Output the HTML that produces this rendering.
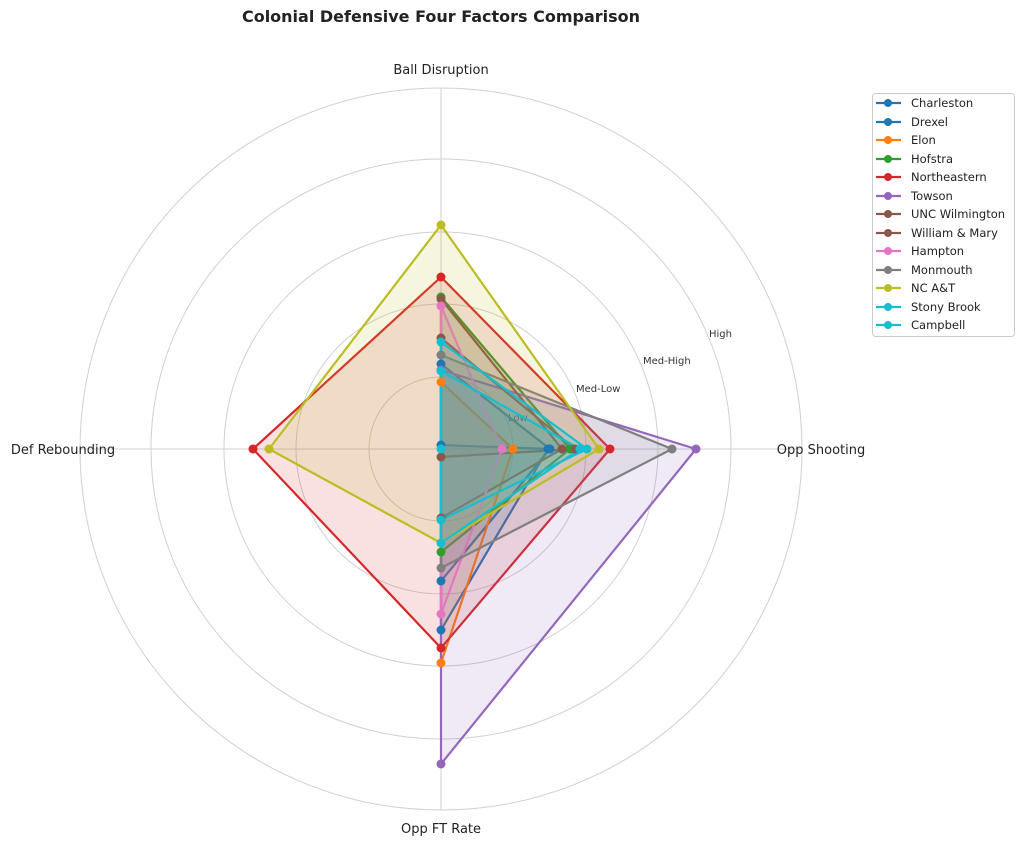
<!DOCTYPE html>
<html><head><meta charset="utf-8"><style>
body{margin:0;background:#fff;}
svg{display:block;font-family:"DejaVu Sans","Liberation Sans",sans-serif;}
</style></head><body>
<svg width="1024" height="844" viewBox="0 0 1024 844">
<text x="441" y="22" text-anchor="middle" font-size="16" font-weight="bold" fill="#222">Colonial Defensive Four Factors Comparison</text>
<g fill="none" stroke="#d0d0d0" stroke-width="1">
<circle cx="441" cy="449" r="72"/><circle cx="441" cy="449" r="145"/><circle cx="441" cy="449" r="217"/><circle cx="441" cy="449" r="290"/><circle cx="441" cy="449" r="361"/>
<line x1="441" y1="449" x2="441" y2="88"/><line x1="441" y1="449" x2="802" y2="449"/><line x1="441" y1="449" x2="441" y2="810"/><line x1="441" y1="449" x2="80" y2="449"/>
</g>
<g font-size="10" fill="#333">
<text x="508" y="421">Low</text><text x="576" y="392">Med-Low</text><text x="643" y="364">Med-High</text><text x="709" y="337">High</text>
</g>
<g font-size="13" fill="#222" text-anchor="middle">
<text x="441" y="74">Ball Disruption</text><text x="821" y="454">Opp Shooting</text><text x="441" y="833">Opp FT Rate</text><text x="63" y="454">Def Rebounding</text>
</g>
<g stroke-width="2.2" stroke-linejoin="round" fill-opacity="0.14">
<polygon points="441,364 550,449 441,581 441,449" fill="#1f77b4" stroke="#1f77b4"/>
<polygon points="441,445 548,449 441,630 441,449" fill="#1f77b4" stroke="#1f77b4"/>
<polygon points="441,382 513,449 441,663 441,449" fill="#ff7f0e" stroke="#ff7f0e"/>
<polygon points="441,297 570,449 441,552 441,449" fill="#2ca02c" stroke="#2ca02c"/>
<polygon points="441,277 610,449 441,648 253,449" fill="#d62728" stroke="#d62728"/>
<polygon points="441,370 696,449 441,764 441,449" fill="#9467bd" stroke="#9467bd"/>
<polygon points="441,299 562,449 441,518 441,449" fill="#8c564b" stroke="#8c564b"/>
<polygon points="441,338 575,449 441,457 441,449" fill="#8c564b" stroke="#8c564b"/>
<polygon points="441,306 502,449 441,614 441,449" fill="#e377c2" stroke="#e377c2"/>
<polygon points="441,355 672,449 441,568 441,449" fill="#7f7f7f" stroke="#7f7f7f"/>
<polygon points="441,225 599,449 441,543 269,449" fill="#bcbd22" stroke="#bcbd22"/>
<polygon points="441,342 587,449 441,520 441,449" fill="#17becf" stroke="#17becf"/>
<polygon points="441,371 580,449 441,543 441,449" fill="#17becf" stroke="#17becf"/>
</g>
<g>
<g fill="#1f77b4"><circle cx="441" cy="364" r="4.5"/><circle cx="550" cy="449" r="4.5"/><circle cx="441" cy="581" r="4.5"/><circle cx="441" cy="445" r="4.5"/><circle cx="548" cy="449" r="4.5"/><circle cx="441" cy="630" r="4.5"/></g>
<g fill="#ff7f0e"><circle cx="441" cy="382" r="4.5"/><circle cx="513" cy="449" r="4.5"/><circle cx="441" cy="663" r="4.5"/></g>
<g fill="#2ca02c"><circle cx="441" cy="297" r="4.5"/><circle cx="570" cy="449" r="4.5"/><circle cx="441" cy="552" r="4.5"/></g>
<g fill="#d62728"><circle cx="441" cy="277" r="4.5"/><circle cx="610" cy="449" r="4.5"/><circle cx="441" cy="648" r="4.5"/><circle cx="253" cy="449" r="4.5"/></g>
<g fill="#9467bd"><circle cx="441" cy="370" r="4.5"/><circle cx="696" cy="449" r="4.5"/><circle cx="441" cy="764" r="4.5"/></g>
<g fill="#8c564b"><circle cx="441" cy="299" r="4.5"/><circle cx="562" cy="449" r="4.5"/><circle cx="441" cy="518" r="4.5"/><circle cx="441" cy="338" r="4.5"/><circle cx="575" cy="449" r="4.5"/><circle cx="441" cy="457" r="4.5"/></g>
<g fill="#e377c2"><circle cx="441" cy="306" r="4.5"/><circle cx="502" cy="449" r="4.5"/><circle cx="441" cy="614" r="4.5"/></g>
<g fill="#7f7f7f"><circle cx="441" cy="355" r="4.5"/><circle cx="672" cy="449" r="4.5"/><circle cx="441" cy="568" r="4.5"/></g>
<g fill="#bcbd22"><circle cx="441" cy="225" r="4.5"/><circle cx="599" cy="449" r="4.5"/><circle cx="441" cy="543" r="4.5"/><circle cx="269" cy="449" r="4.5"/></g>
<g fill="#17becf"><circle cx="441" cy="342" r="4.5"/><circle cx="587" cy="449" r="4.5"/><circle cx="441" cy="520" r="4.5"/><circle cx="441" cy="371" r="4.5"/><circle cx="580" cy="449" r="4.5"/><circle cx="441" cy="543" r="4.5"/><circle cx="441" cy="449" r="4.5"/></g>
</g>
<rect x="872.5" y="93.5" width="142" height="243" rx="3" fill="#fff" stroke="#ccc"/>
<g font-size="11.5" fill="#222" stroke-width="2.2">
<g stroke="#1f77b4" fill="#1f77b4"><line x1="876" y1="103" x2="901" y2="103"/><circle cx="888" cy="103" r="4" stroke="none"/><line x1="876" y1="122" x2="901" y2="122"/><circle cx="888" cy="122" r="4" stroke="none"/></g>
<g stroke="#ff7f0e" fill="#ff7f0e"><line x1="876" y1="140" x2="901" y2="140"/><circle cx="888" cy="140" r="4" stroke="none"/></g>
<g stroke="#2ca02c" fill="#2ca02c"><line x1="876" y1="159" x2="901" y2="159"/><circle cx="888" cy="159" r="4" stroke="none"/></g>
<g stroke="#d62728" fill="#d62728"><line x1="876" y1="177" x2="901" y2="177"/><circle cx="888" cy="177" r="4" stroke="none"/></g>
<g stroke="#9467bd" fill="#9467bd"><line x1="876" y1="196" x2="901" y2="196"/><circle cx="888" cy="196" r="4" stroke="none"/></g>
<g stroke="#8c564b" fill="#8c564b"><line x1="876" y1="214" x2="901" y2="214"/><circle cx="888" cy="214" r="4" stroke="none"/><line x1="876" y1="233" x2="901" y2="233"/><circle cx="888" cy="233" r="4" stroke="none"/></g>
<g stroke="#e377c2" fill="#e377c2"><line x1="876" y1="251" x2="901" y2="251"/><circle cx="888" cy="251" r="4" stroke="none"/></g>
<g stroke="#7f7f7f" fill="#7f7f7f"><line x1="876" y1="270" x2="901" y2="270"/><circle cx="888" cy="270" r="4" stroke="none"/></g>
<g stroke="#bcbd22" fill="#bcbd22"><line x1="876" y1="288" x2="901" y2="288"/><circle cx="888" cy="288" r="4" stroke="none"/></g>
<g stroke="#17becf" fill="#17becf"><line x1="876" y1="307" x2="901" y2="307"/><circle cx="888" cy="307" r="4" stroke="none"/><line x1="876" y1="325" x2="901" y2="325"/><circle cx="888" cy="325" r="4" stroke="none"/></g>
<text x="911" y="107">Charleston</text><text x="911" y="126">Drexel</text><text x="911" y="144">Elon</text><text x="911" y="163">Hofstra</text><text x="911" y="181">Northeastern</text><text x="911" y="200">Towson</text><text x="911" y="218">UNC Wilmington</text><text x="911" y="237">William &amp; Mary</text><text x="911" y="255">Hampton</text><text x="911" y="274">Monmouth</text><text x="911" y="292">NC A&amp;T</text><text x="911" y="311">Stony Brook</text><text x="911" y="329">Campbell</text>
</g>
</svg>
</body></html>
